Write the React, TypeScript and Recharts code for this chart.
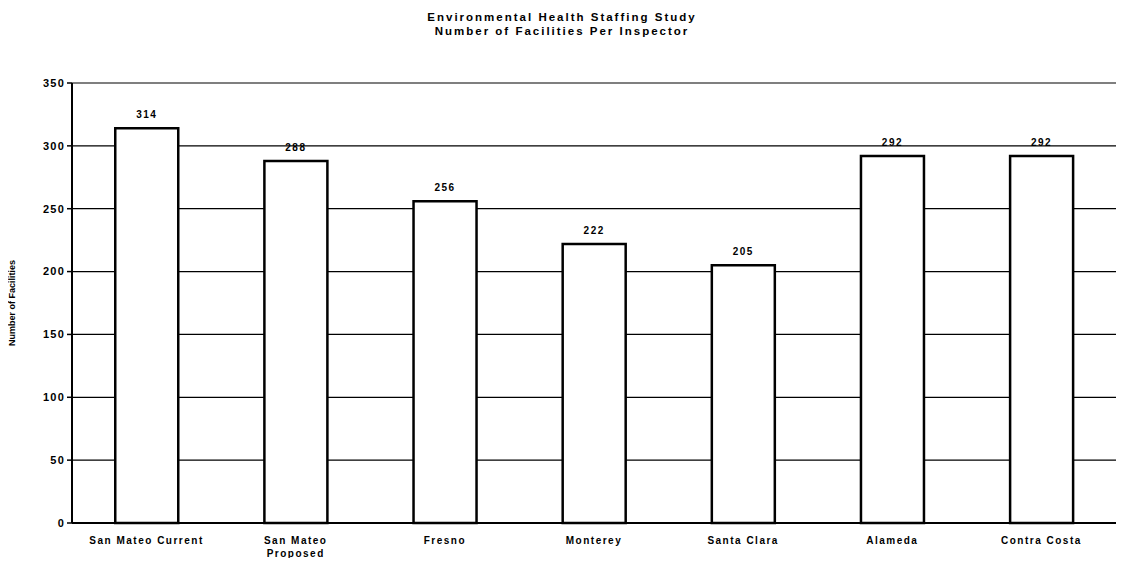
import { Bar, BarChart, CartesianGrid, LabelList, XAxis, YAxis } from "recharts";

// scanned chart: plain black on white, Arial-ish bold with wide tracking
const INK = "#000000";
const FONT = "'Liberation Sans', Arial, sans-serif";

const CATEGORIES = [
  "San Mateo Current",
  "San Mateo Proposed",
  "Fresno",
  "Monterey",
  "Santa Clara",
  "Alameda",
  "Contra Costa",
];
const FACILITIES = [314, 288, 256, 222, 205, 292, 292];
// how each category name breaks onto lines under the axis
const TICK_LINES = [
  ["San Mateo Current"],
  ["San Mateo", "Proposed"],
  ["Fresno"],
  ["Monterey"],
  ["Santa Clara"],
  ["Alameda"],
  ["Contra Costa"],
];
const Y_TICKS = [0, 50, 100, 150, 200, 250, 300, 350];
const EDGE_TICKS = [0, 1, 2, 3, 4, 5, 6, 7];

const data = CATEGORIES.map((name, i) => ({ name, facilities: FACILITIES[i] }));

const textStyle = {
  fontFamily: FONT,
  fontWeight: 700,
  fontSize: 10,
  letterSpacing: 1.5,
  fill: INK,
};

function CategoryTick({ x, y, index }: { x: number; y: number; index: number }) {
  const lines = TICK_LINES[index] ?? [];
  return (
    <g>
      {lines.map((line, i) => (
        <text key={i} x={x} y={y + 13 + i * 13} textAnchor="middle" style={textStyle}>
          {line}
        </text>
      ))}
    </g>
  );
}

export default function App() {
  return (
    <div style={{ position: "relative", width: 1124, height: 566, margin: -8, background: "#fff" }}>
      <div
        style={{
          position: "absolute",
          top: 10,
          left: 0,
          width: 1124,
          textAlign: "center",
          fontFamily: FONT,
          fontWeight: 700,
          fontSize: 11.5,
          letterSpacing: 2,
          lineHeight: "14px",
          color: INK,
        }}
      >
        <div>Environmental Health Staffing Study</div>
        <div>Number of Facilities Per Inspector</div>
      </div>
      <BarChart
        width={1124}
        height={566}
        data={data}
        margin={{ top: 83, right: 8, bottom: 0, left: 0 }}
        barCategoryGap="29%"
      >
        <CartesianGrid vertical={false} stroke={INK} strokeWidth={1.2} />
        <XAxis
          dataKey="name"
          height={43}
          tickLine={false}
          axisLine={{ stroke: INK, strokeWidth: 2 }}
          interval={0}
          tick={(props: any) => <CategoryTick {...props} />}
        />
        <XAxis
          xAxisId="edges"
          type="number"
          domain={[0, 7]}
          ticks={EDGE_TICKS}
          height={0}
          axisLine={false}
          tickSize={5}
          tickLine={{ stroke: INK, strokeWidth: 1.5 }}
          tickFormatter={() => ""}
        />
        <YAxis
          domain={[0, 350]}
          ticks={Y_TICKS}
          width={72}
          tickSize={5}
          tickLine={{ stroke: INK, strokeWidth: 1.5 }}
          axisLine={{ stroke: INK, strokeWidth: 2 }}
          tick={{ ...textStyle, fontSize: 11, letterSpacing: 1.2 }}
          label={{
            value: "Number of Facilities",
            angle: -90,
            position: "insideLeft",
            offset: 12,
            style: { fontFamily: FONT, fontWeight: 700, fontSize: 9, fill: INK, textAnchor: "middle" },
          }}
        />
        <YAxis
          yAxisId="border"
          orientation="right"
          width={0}
          tick={false}
          tickLine={false}
          axisLine={{ stroke: INK, strokeWidth: 2 }}
        />
        <Bar
          dataKey="facilities"
          fill="#ffffff"
          stroke={INK}
          strokeWidth={2.5}
          isAnimationActive={false}
        >
          <LabelList dataKey="facilities" position="top" offset={10} style={textStyle} />
        </Bar>
      </BarChart>
    </div>
  );
}
